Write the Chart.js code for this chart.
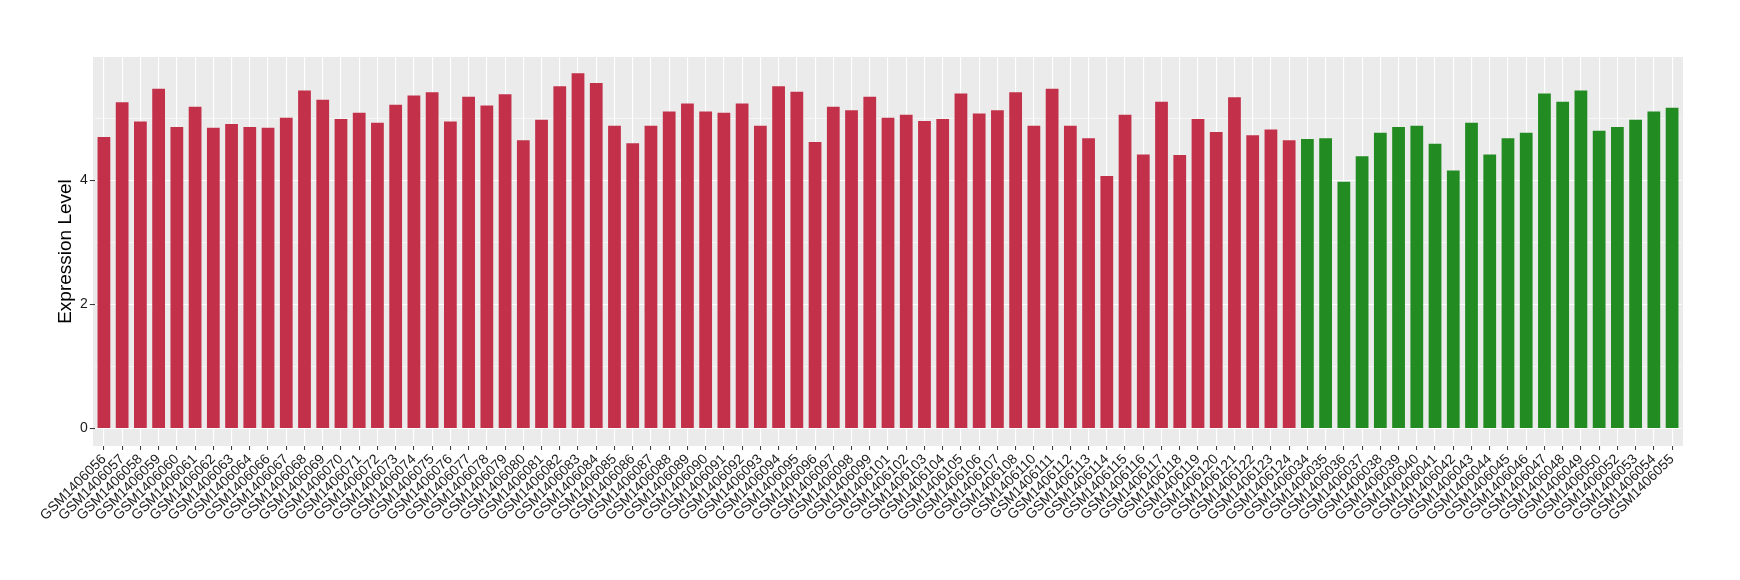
<!DOCTYPE html>
<html>
<head>
<meta charset="utf-8">
<title>Expression Level</title>
<script src="https://cdn.jsdelivr.net/npm/chart.js@4.4.1/dist/chart.umd.min.js"></script>
<style>
  html, body { margin: 0; padding: 0; background: #fff; }
  #wrap { width: 1740px; height: 580px; }
</style>
</head>
<body>
<div id="wrap"><canvas id="myChart" width="1740" height="580"></canvas></div>
<script>
// samples in the first group (red) and their levels
const redSamples = [
  'GSM1406056','GSM1406057','GSM1406058','GSM1406059','GSM1406060','GSM1406061','GSM1406062','GSM1406063',
  'GSM1406064','GSM1406066','GSM1406067','GSM1406068','GSM1406069','GSM1406070','GSM1406071','GSM1406072',
  'GSM1406073','GSM1406074','GSM1406075','GSM1406076','GSM1406077','GSM1406078','GSM1406079','GSM1406080',
  'GSM1406081','GSM1406082','GSM1406083','GSM1406084','GSM1406085','GSM1406086','GSM1406087','GSM1406088',
  'GSM1406089','GSM1406090','GSM1406091','GSM1406092','GSM1406093','GSM1406094','GSM1406095','GSM1406096',
  'GSM1406097','GSM1406098','GSM1406099','GSM1406101','GSM1406102','GSM1406103','GSM1406104','GSM1406105',
  'GSM1406106','GSM1406107','GSM1406108','GSM1406110','GSM1406111','GSM1406112','GSM1406113','GSM1406114',
  'GSM1406115','GSM1406116','GSM1406117','GSM1406118','GSM1406119','GSM1406120','GSM1406121','GSM1406122',
  'GSM1406123','GSM1406124'
];
const redValues = [
  4.70, 5.26, 4.95, 5.48, 4.86, 5.19, 4.85, 4.91,
  4.86, 4.85, 5.01, 5.45, 5.30, 4.99, 5.09, 4.93,
  5.22, 5.37, 5.42, 4.95, 5.35, 5.21, 5.39, 4.65,
  4.98, 5.52, 5.73, 5.57, 4.88, 4.60, 4.88, 5.11,
  5.24, 5.11, 5.09, 5.24, 4.88, 5.52, 5.43, 4.62,
  5.19, 5.13, 5.35, 5.01, 5.06, 4.96, 4.99, 5.40,
  5.08, 5.13, 5.42, 4.88, 5.48, 4.88, 4.68, 4.07,
  5.06, 4.42, 5.27, 4.41, 4.99, 4.78, 5.34, 4.73,
  4.82, 4.65
];

// second group (green)
const greenSamples = [
  'GSM1406034','GSM1406035','GSM1406036','GSM1406037','GSM1406038','GSM1406039','GSM1406040','GSM1406041',
  'GSM1406042','GSM1406043','GSM1406044','GSM1406045','GSM1406046','GSM1406047','GSM1406048','GSM1406049',
  'GSM1406050','GSM1406052','GSM1406053','GSM1406054','GSM1406055'
];
const greenValues = [
  4.67, 4.68, 3.98, 4.39, 4.77, 4.86, 4.88, 4.59,
  4.16, 4.93, 4.42, 4.68, 4.77, 5.40, 5.27, 5.45,
  4.80, 4.86, 4.98, 5.11, 5.17
];

const yTicks = [0, 1, 2, 3, 4, 5];   // 0,2,4 labelled, odd ones are minor grid
const yMin = -0.28, yMax = 5.99;

const RED = '#C3304A';
const GREEN = '#228B22';

const labels = redSamples.concat(greenSamples);
const values = redValues.concat(greenValues);
const colors = redSamples.map(() => RED).concat(greenSamples.map(() => GREEN));

// grey panel behind the plot, ggplot style (a bit wider than the chart area on x)
const panelBg = {
  id: 'panelBg',
  beforeDraw(chart) {
    const {ctx, chartArea} = chart;
    const step = (chartArea.right - chartArea.left) / labels.length;
    const ext = step * 0.1;
    ctx.save();
    ctx.fillStyle = '#EBEBEB';
    ctx.fillRect(chartArea.left - ext, chartArea.top, chartArea.right - chartArea.left + 2 * ext, chartArea.bottom - chartArea.top);
    ctx.restore();
  }
};

const fontFam = '"Liberation Sans", Arial, Helvetica, sans-serif';

let myChart = new Chart(document.getElementById('myChart'), {
  type: 'bar',
  data: {
    labels: labels,
    datasets: [{
      data: values,
      backgroundColor: colors,
      borderWidth: 0,
      barPercentage: 0.7,
      categoryPercentage: 1.0
    }]
  },
  options: {
    responsive: false,
    animation: false,
    devicePixelRatio: 1,
    layout: { padding: { left: 50, right: 58.8, top: 57, bottom: 0 } },
    plugins: {
      legend: { display: false },
      tooltip: { enabled: false }
    },
    scales: {
      x: {
        offset: true,
        grid: {
          offset: false,
          color: '#FFFFFF',
          lineWidth: 1.1,
          drawTicks: true,
          tickLength: 4,
          tickColor: '#333333',
          tickWidth: 1
        },
        border: { display: false },
        ticks: {
          autoSkip: false,
          maxRotation: 45,
          minRotation: 45,
          padding: 1,
          color: '#1A1A1A',
          font: { family: fontFam, size: 14 }
        },
        afterFit(scale) { scale.height = 134; }
      },
      y: {
        min: yMin,
        max: yMax,
        afterBuildTicks(scale) {
          scale.ticks = yTicks.map(v => ({ value: v }));
        },
        grid: {
          color: '#FFFFFF',
          lineWidth: ctx => (ctx.tick && ctx.tick.value % 2 === 0) ? 1.1 : 0.55,
          tickLength: 5,
          tickColor: ctx => (ctx.tick && ctx.tick.value % 2 === 0) ? '#333333' : 'rgba(0,0,0,0)',
          tickWidth: 1
        },
        border: { display: false },
        ticks: {
          padding: 2,
          color: '#1A1A1A',
          font: { family: fontFam, size: 14 },
          callback: v => (v % 2 === 0 ? String(v) : '')
        },
        title: {
          display: true,
          text: 'Expression Level',
          color: '#000000',
          font: { family: fontFam, size: 19 },
          padding: { top: 4, bottom: 0 }
        },
        afterFit(scale) { scale.width = 44.8; }
      }
    }
  },
  plugins: [panelBg]
});
</script>
</body>
</html>
